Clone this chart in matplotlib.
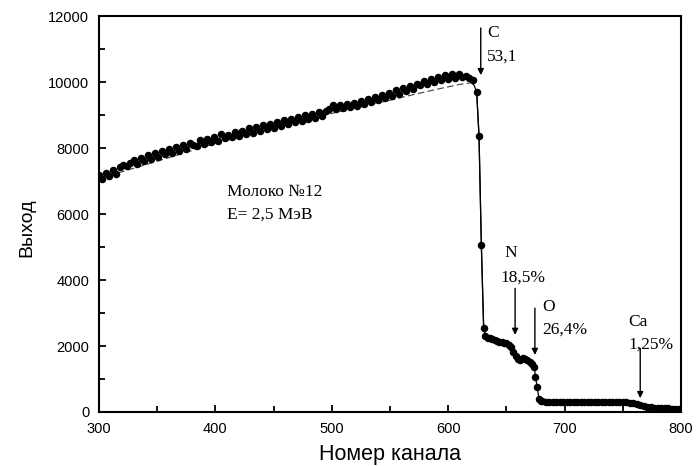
"""Spectrum yield vs channel number (milk sample No.12, E = 2.5 MeV)."""

import numpy as np
import matplotlib.pyplot as plt

# --- data ------------------------------------------------------------------
# plateau points, channel 300..621 step 3
plateau_ch = np.arange(300, 622, 3)
plateau_y = [
    7200, 7080, 7260, 7170, 7350, 7230, 7420, 7500, 7470, 7560,
    7640, 7530, 7700, 7610, 7790, 7680, 7850, 7740, 7910, 7820,
    7980, 7870, 8050, 7930, 8090, 7990, 8170, 8100, 8060, 8240,
    8130, 8290, 8180, 8340, 8220, 8430, 8300, 8400, 8330, 8510,
    8380, 8540, 8430, 8610, 8480, 8660, 8540, 8700, 8590, 8750,
    8630, 8790, 8680, 8850, 8740, 8900, 8800, 8940, 8830, 9000,
    8890, 9040, 8930, 9100, 8990, 9130, 9200, 9300, 9180, 9310,
    9220, 9350, 9240, 9380, 9290, 9440, 9340, 9500, 9400, 9570,
    9460, 9620, 9530, 9690, 9600, 9770, 9660, 9830, 9740, 9900,
    9800, 9960, 9920, 10050, 9950, 10110, 10010, 10170, 10060, 10230,
    10110, 10260, 10130, 10250, 10150, 10190, 10130, 10060,
]

# edge / step region
edge_ch = [624.5, 626.5, 628.5, 630.5, 632, 634, 636, 638, 640, 642, 644,
           646, 648, 650, 652, 654, 656, 658, 660, 662, 664, 666, 668, 670,
           672, 674, 675, 676.5, 678, 680]
edge_y = [9700, 8380, 5070, 2540, 2300, 2260, 2240, 2200, 2180, 2150, 2130,
          2120, 2100, 2080, 2040, 1980, 1820, 1700, 1600, 1580, 1640, 1620,
          1580, 1520, 1450, 1380, 1060, 760, 400, 330]

# tail
tail_ch = np.arange(681, 800, 3)
tail_y = [320, 300, 310, 290, 305, 315, 295, 300, 310, 290,
          300, 315, 300, 295, 305, 310, 300, 290, 305, 300,
          310, 295, 300, 290, 295, 280, 270, 250, 220, 190,
          160, 140, 130, 120, 120, 110, 110, 100, 100, 100]

# smooth fit curves
fit_ch = [300, 316, 345, 400, 450, 500, 550, 569, 590, 610, 620]
fit_y = [7090, 7250, 7555, 8150, 8620, 9060, 9460, 9620, 9790, 9940, 9990]
fit2_ch = [620, 622.5, 624.5, 626.5, 628.5, 630.5, 632]
fit2_y = [9990, 9900, 9700, 8380, 5070, 2540, 2300]

# element markers: arrow channel, arrow top, arrow tip
elem_ch = [628, 657.5, 674.5, 765]
elem_top = [11650, 3750, 3150, 1930]
elem_tip = [10220, 2340, 1730, 420]

serif = ["Liberation Serif", "DejaVu Serif"]
sans = ["Liberation Sans", "DejaVu Sans"]

fig = plt.figure(figsize=(6.96, 4.66), dpi=100)
ax = fig.add_axes([0.1422, 0.1159, 0.8362, 0.8487])

ax.plot(fit_ch, fit_y, ls=(0, (6, 3)), color="0.25", lw=0.8, zorder=2)
ax.plot(fit2_ch, fit2_y, color="black", lw=0.9, zorder=2)
ax.plot(edge_ch + list(tail_ch), edge_y + tail_y, color="black", lw=0.9,
        zorder=2)

all_ch = list(plateau_ch) + edge_ch + list(tail_ch)
all_y = plateau_y + edge_y + tail_y
ax.plot(all_ch, all_y, ls="none", marker="o", ms=4.4, color="black",
        zorder=3)

for ch, top, tip in zip(elem_ch, elem_top, elem_tip):
    ax.annotate("", xy=(ch, tip), xytext=(ch, top),
                arrowprops=dict(arrowstyle="-|>", color="black", lw=1.0,
                                mutation_scale=9, shrinkA=0, shrinkB=0))

# labels beside / above arrows
fs = 12.5
ax.text(633.5, 11500, "C", family=serif, fontsize=fs, va="center")
ax.text(633.5, 10770, "53,1", family=serif, fontsize=fs, va="center")
ax.text(648, 4820, "N", family=serif, fontsize=fs, va="center")
ax.text(645, 4070, "18,5%", family=serif, fontsize=fs, va="center")
ax.text(681, 3200, "O", family=serif, fontsize=fs, va="center")
ax.text(681, 2490, "26,4%", family=serif, fontsize=fs, va="center")
ax.text(755, 2740, "Ca", family=serif, fontsize=fs, va="center")
ax.text(755, 2030, "1,25%", family=serif, fontsize=fs, va="center")

ax.text(410, 6680, "Молоко №12", family=serif, fontsize=fs, va="center")
ax.text(410, 5980, "E= 2,5 МэВ", family=serif, fontsize=fs, va="center")

ax.set_xlim(300, 800)
ax.set_ylim(0, 12000)
ax.set_xticks(np.arange(300, 801, 100))
ax.set_xticks(np.arange(350, 800, 100), minor=True)
ax.set_yticks(np.arange(0, 12001, 2000))
ax.set_yticks(np.arange(1000, 12000, 2000), minor=True)
ax.tick_params(which="both", direction="in", width=1.3, labelsize=10.5,
               pad=7)
ax.tick_params(which="major", length=5)
ax.tick_params(which="minor", length=4)
for lab in ax.get_xticklabels() + ax.get_yticklabels():
    lab.set_family(sans)
for sp in ax.spines.values():
    sp.set_linewidth(1.5)

ax.set_xlabel("Номер канала", family=sans, fontsize=15.5, labelpad=6)
ax.set_ylabel("Выход", family=sans, fontsize=14)
ax.yaxis.set_label_coords(-0.11, 0.467)

fig.savefig("out.png", dpi=100)
